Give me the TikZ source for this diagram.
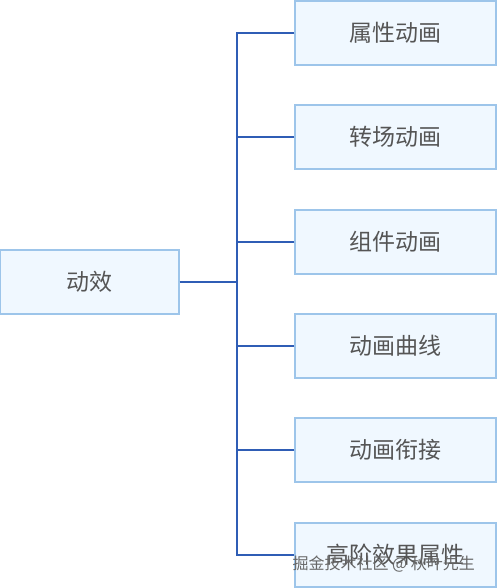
\documentclass[tikz,border=0pt]{standalone}
\usepackage{fontspec}
\newfontfamily\cjk{Noto Sans CJK SC}
\definecolor{boxfill}{HTML}{F0F8FF}
\definecolor{boxline}{HTML}{9DC5EA}
\definecolor{conn}{HTML}{2F5DB5}
\definecolor{txt}{HTML}{555555}
\begin{document}
\begin{tikzpicture}[x=1pt,y=-1pt,
  item/.style={draw=boxline, line width=1.2pt, fill=boxfill, minimum width=201pt, minimum height=64pt, inner sep=0pt, font=\cjk\fontsize{23}{27}\selectfont, text=txt},
  rootbox/.style={item, minimum width=179pt},
  link/.style={draw=conn, line width=1.3pt}]
\useasboundingbox (0,0) rectangle (497,588);
\node[rootbox] (root) at (89.5,282) {动效};
\coordinate (trunk) at (237,282);
\node[item] (a) at (395.5,33) {属性动画};
\node[item] (b) at (395.5,137) {转场动画};
\node[item] (c) at (395.5,242) {组件动画};
\node[item] (d) at (395.5,346) {动画曲线};
\node[item] (e) at (395.5,450) {动画衔接};
\node[item] (f) at (395.5,555) {高阶效果属性};
\draw[link] (root.east) -- (trunk);
\foreach \n in {a,b,c,d,e,f}{
  \draw[link] (\n.west) -| (trunk);
}
\node[font=\cjk\fontsize{16}{18}\selectfont, text=black!60, anchor=west] (wm) at (289,564) {掘金技术社区 @ 秋叶先生};
\end{tikzpicture}
\end{document}
